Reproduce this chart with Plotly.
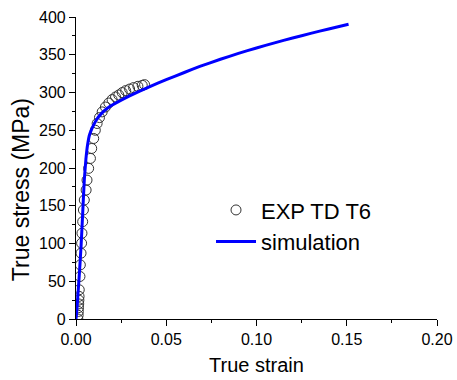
import plotly.graph_objects as go

# Experimental data (EXP TD T6)
exp_strain = [0.0010, 0.0012, 0.0013, 0.0014, 0.0015, 0.0016, 0.0017,
              0.0018, 0.0022, 0.0024, 0.0028, 0.0031, 0.0033, 0.0037, 0.0041,
              0.0046, 0.0056, 0.0061, 0.0070, 0.0080, 0.0087, 0.0098, 0.0107,
              0.0117, 0.0130, 0.0145, 0.0163, 0.0182, 0.0200, 0.0219, 0.0237,
              0.0256, 0.0275, 0.0297, 0.0319, 0.0343, 0.0367, 0.0380]
exp_stress = [0, 5, 10, 15, 20, 25, 30,
              38.7, 56.3, 71.7, 87.2, 100.4, 113.6, 128.9, 144.4,
              157.6, 170.8, 184.0, 199.5, 212.7, 225.9, 239.1, 250.0,
              259.0, 266.8, 274.3, 280.8, 286.1, 290.6, 294.1, 296.7,
              299.9, 302.5, 304.6, 306.5, 308.2, 309.5, 310.4]

# Simulation curve
sim_strain = [0.0, 0.0005, 0.0010, 0.0020, 0.0028, 0.0036, 0.0046, 0.0055,
              0.0065, 0.0075, 0.0090, 0.0111, 0.0140, 0.0185, 0.0240, 0.0297,
              0.0350, 0.0406, 0.0500, 0.0600, 0.0686, 0.0800, 0.0900, 0.1000,
              0.1100, 0.1200, 0.1300, 0.1400, 0.1510]
sim_stress = [0, 12, 30, 65, 96, 135, 184, 212,
              232, 244, 253, 263, 272, 281, 288.5, 295.5,
              301.5, 307.5, 317, 326.5, 334.5, 344, 351.8, 359,
              365.8, 372.2, 378.3, 384.2, 390.5]

x_ticks = [0.00, 0.05, 0.10, 0.15, 0.20]
y_ticks = [0, 50, 100, 150, 200, 250, 300, 350, 400]

x_title = "True strain"
y_title = "True stress (MPa)"

FONT = "Arial, Liberation Sans, sans-serif"

fig = go.Figure()
fig.add_trace(go.Scatter(
    x=exp_strain, y=exp_stress, mode="markers", name="EXP TD T6",
    marker=dict(symbol="circle-open", size=10, color="#333333",
                line=dict(width=1, color="#333333")),
))
fig.add_trace(go.Scatter(
    x=sim_strain, y=sim_stress, mode="lines", name="simulation",
    line=dict(color="#0000FF", width=3, shape="spline", smoothing=0.4),
))

axis_common = dict(
    showline=True, linecolor="black", linewidth=1.2,
    ticks="outside", ticklen=6, tickwidth=1.2, tickcolor="black",
    showgrid=False, zeroline=False, mirror=False, automargin=False,
    tickfont=dict(family=FONT, size=16, color="black"),
)

fig.update_layout(
    width=457, height=380,
    margin=dict(l=76, r=20, t=17, b=61),
    paper_bgcolor="white", plot_bgcolor="white",
    font=dict(family=FONT, color="black"),
    xaxis=dict(
        range=[0, 0.2], tickvals=x_ticks, tickformat=".2f",
        minor=dict(ticks="outside", ticklen=3, tickcolor="black", dtick=0.025, tick0=0),
        title=dict(text=x_title, font=dict(size=20), standoff=10),
        **axis_common,
    ),
    yaxis=dict(
        range=[0, 400], tickvals=y_ticks,
        minor=dict(ticks="outside", ticklen=3, tickcolor="black", dtick=25, tick0=0),
        **axis_common,
    ),
    annotations=[dict(
        text=y_title, textangle=-90, xref="paper", yref="paper",
        x=-0.152, y=0.427, xanchor="center", yanchor="middle",
        showarrow=False, font=dict(family=FONT, size=23, color="black"),
    )],
    legend=dict(
        x=0.374, y=0.43, xanchor="left", yanchor="top",
        bgcolor="rgba(0,0,0,0)", font=dict(size=22, color="black"),
        itemwidth=40,
    ),
    showlegend=True,
)

fig.write_html("out.html", config={"displayModeBar": False},
               post_script="document.body.style.margin='0';")
